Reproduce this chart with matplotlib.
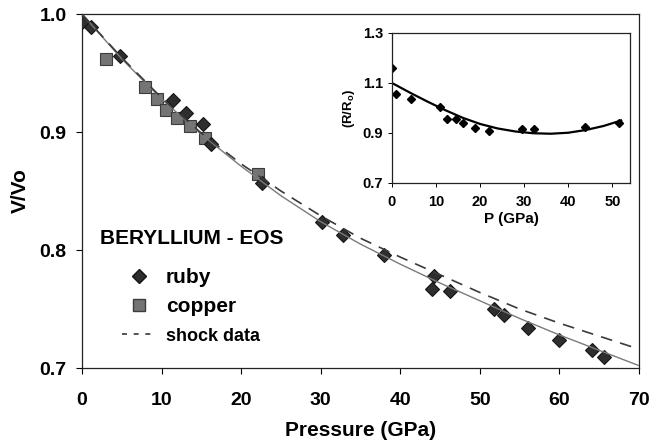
import numpy as np
import matplotlib
matplotlib.use('Agg')
import matplotlib.pyplot as plt
from matplotlib.lines import Line2D

plt.rcParams['font.family'] = ['Liberation Sans', 'DejaVu Sans']
plt.rcParams['font.weight'] = 'bold'
plt.rcParams['mathtext.fontset'] = 'custom'
plt.rcParams['mathtext.rm'] = 'Liberation Sans:bold'

# main plot data
ruby_p = [0.0, 1.1, 4.75, 11.4, 13.1, 15.2, 16.2, 22.6, 30.2, 32.8, 38.0,
          44.3, 44.0, 46.3, 51.8, 53.0, 56.1, 59.9, 64.1, 65.6]
ruby_v = [0.993, 0.989, 0.964, 0.927, 0.916, 0.907, 0.890, 0.857, 0.824, 0.813, 0.796,
          0.778, 0.767, 0.765, 0.750, 0.745, 0.734, 0.724, 0.715, 0.709]
copper_p = [3.0, 7.9, 9.4, 10.6, 11.9, 13.6, 15.4, 22.1]
copper_v = [0.962, 0.938, 0.928, 0.919, 0.912, 0.905, 0.895, 0.864]

curve_p = [0, 5, 10, 15, 20, 25, 30, 35, 40, 45, 50, 55, 60, 65, 70]
fit_v = [1.0, 0.962, 0.928, 0.898, 0.871, 0.846, 0.824, 0.805, 0.788, 0.772,
         0.757, 0.742, 0.728, 0.715, 0.702]
shock_v = [1.0, 0.963, 0.929, 0.899, 0.873, 0.850, 0.829, 0.810, 0.794, 0.779,
           0.764, 0.750, 0.738, 0.727, 0.716]

# inset data
ins_p = [0.0, 0.8, 4.2, 11.0, 12.5, 14.5, 16.0, 18.8, 22.0, 29.4, 32.2, 43.8, 51.5]
ins_r = [1.159, 1.055, 1.036, 1.003, 0.956, 0.956, 0.938, 0.921, 0.909, 0.917, 0.917, 0.922, 0.938]
ins_fit_p = [0, 4, 8, 12, 16, 20, 24, 28, 32, 36, 40, 44, 48, 52]
ins_fit_r = [1.100, 1.062, 1.026, 0.992, 0.961, 0.936, 0.918, 0.906, 0.899, 0.897,
             0.901, 0.912, 0.928, 0.950]

fig = plt.figure(figsize=(6.49, 4.45), dpi=100)
ax = fig.add_axes([0.1263, 0.173, 0.8583, 0.7955])

ax.plot(copper_p, copper_v, 's', ms=9, color='#747474', mec='#3c3c3c', mew=0.8, zorder=2)
ax.plot(ruby_p, ruby_v, 'D', ms=7.5, color='#2e2e2e', mec='#151515', mew=0.8, zorder=3)
ax.plot(curve_p, fit_v, '-', color='#7a7a7a', lw=1.0, zorder=4)
ax.plot(curve_p, shock_v, '--', color='#3a3a3a', lw=1.2, dashes=(7, 5), zorder=4)

ax.set_xlim(0, 70)
ax.set_ylim(0.7, 1.0)
ax.set_xticks(np.arange(0, 71, 10))
ax.set_yticks([0.7, 0.8, 0.9, 1.0])
ax.set_yticklabels(['0.7', '0.8', '0.9', '1.0'])
ax.tick_params(axis='x', labelsize=14, length=4, pad=13, width=0.8)
ax.tick_params(axis='y', labelsize=14, length=4, pad=7, width=0.8)
ax.set_xlabel('Pressure (GPa)', fontsize=15, fontweight='bold', labelpad=9)
ax.set_ylabel('V/Vo', fontsize=15, fontweight='bold', labelpad=7)
for s in ax.spines.values():
    s.set_color('#222222')
    s.set_linewidth(0.9)

# legend
fig.text(100 / 649, 1 - 238 / 445, 'BERYLLIUM - EOS', fontsize=15, fontweight='bold',
         ha='left', va='center')
handles = [Line2D([], [], ls='none', marker='D', ms=7.5, color='#2e2e2e', mec='#151515'),
           Line2D([], [], ls='none', marker='s', ms=9, color='#747474', mec='#3c3c3c'),
           Line2D([], [], ls='--', color='#3a3a3a', lw=1.2, dashes=(3, 4))]
leg = ax.legend(handles, ['ruby', 'copper', 'shock data'], loc='upper left',
                bbox_to_anchor=(122 / 649, 1 - 268 / 445), bbox_transform=fig.transFigure,
                frameon=False, fontsize=15, handlelength=1.6, handletextpad=0.5,
                labelspacing=0.5, borderpad=0, borderaxespad=0)
leg.get_texts()[2].set_fontsize(13)

# inset
ai = fig.add_axes([0.604, 0.5888, 0.3667, 0.3371])
ai.plot(ins_p, ins_r, 'D', ms=4, color='black')
ai.plot(ins_fit_p, ins_fit_r, '-', color='black', lw=1.6)
ai.set_xlim(0, 54)
ai.set_ylim(0.7, 1.3)
ai.set_xticks(np.arange(0, 51, 10))
ai.set_yticks([0.7, 0.9, 1.1, 1.3])
ai.set_yticklabels(['0.7', '0.9', '1.1', '1.3'])
ai.tick_params(labelsize=10.5, length=3, width=0.7)
ai.tick_params(axis='x', pad=6)
ai.set_xlabel('P (GPa)', fontsize=11, fontweight='bold', labelpad=2)
ai.set_ylabel('(R/R$_\\mathrm{o}$)', fontsize=9.5, fontweight='bold', labelpad=4)
for s in ai.spines.values():
    s.set_color('#222222')
    s.set_linewidth(0.9)

fig.savefig('out.png', dpi=100)
